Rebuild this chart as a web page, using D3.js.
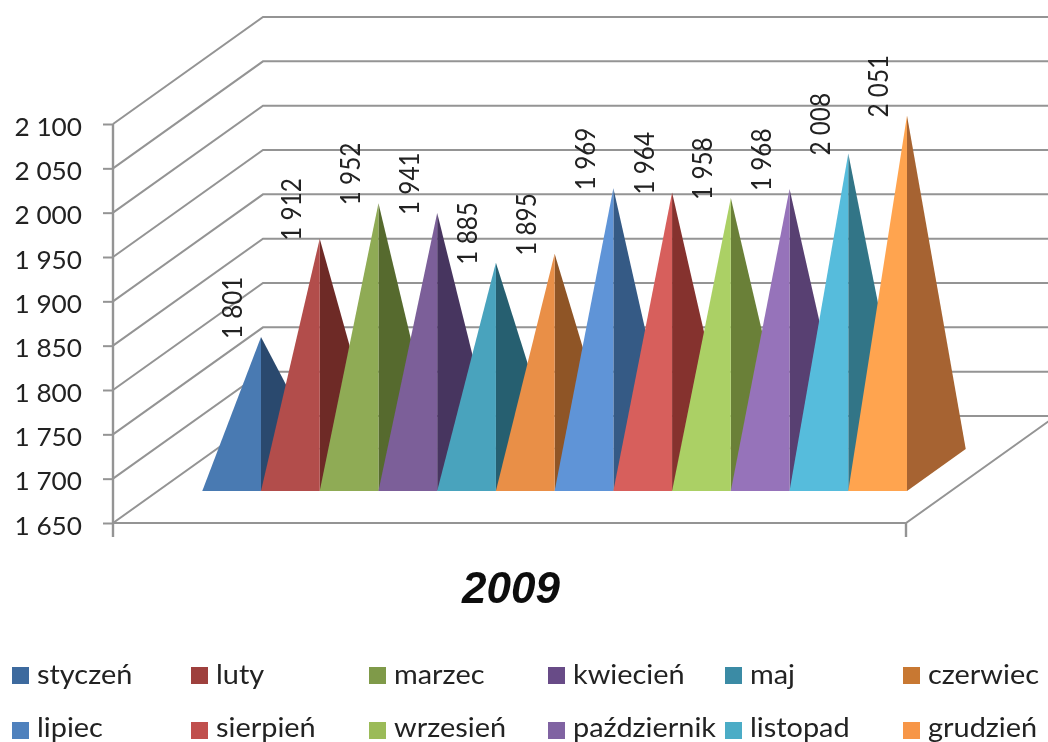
<!DOCTYPE html>
<html>
<head>
<meta charset="utf-8">
<script src="https://cdn.jsdelivr.net/npm/d3@7/dist/d3.min.js"></script>
<style>
html,body{margin:0;padding:0;background:#fff;overflow:hidden}
svg{display:block}
text{font-family:Lato,"Open Sans",sans-serif;fill:#222}
</style>
</head>
<body>
<svg id="chart" width="1048" height="742"></svg>
<script>
const months = ["styczeń","luty","marzec","kwiecień","maj","czerwiec","lipiec","sierpień","wrzesień","październik","listopad","grudzień"];
const values = [1801,1912,1952,1941,1885,1895,1969,1964,1958,1968,2008,2051];
const yTicks = [1650,1700,1750,1800,1850,1900,1950,2000,2050,2100];
const categoryTitle = "2009";
const frontColors = ["#4a7ab2","#b24e4b","#8fab54","#7b5f99","#4aa3bd","#e98f47","#5f94d7","#d75f5c","#abd065","#9673ba","#57bcdc","#ffa44f"];
const sideColors  = ["#2c4a6e","#6e2a28","#566a2e","#47355f","#285f70","#8f5426","#355a85","#85322f","#6b8039","#583f72","#337587","#a66430"];
const legendColors= ["#3e6a9e","#9e3f3c","#7f9a48","#674b87","#3b8ba5","#c87832","#4f81bd","#c0504d","#9bbb59","#8064a2","#4bacc6","#f79646"];

const W = 1048, H = 742;
const svg = d3.select("#chart");
const defs = svg.append("defs");
defs.append("filter").attr("id","soft").attr("x","-5%").attr("y","-5%").attr("width","110%").attr("height","110%")
  .append("feGaussianBlur").attr("stdDeviation",0.55);
const root = svg.append("g").attr("filter","url(#soft)");

const left = 113, right = 906, depthX = 150, depthY = 107;
const y = d3.scaleLinear().domain([1650,2100]).range([523,124]);
const x = d3.scalePoint().domain(months).range([261,907]);
const grid = "#949494";
const fmt = d3.formatLocale({decimal:",",thousands:"\u00a0",grouping:[3],currency:["",""]}).format(",d");
const line = d3.line();

// walls and floor
const gridG = root.append("g");
yTicks.forEach(t => {
  gridG.append("path").attr("fill","none").attr("stroke",grid).attr("stroke-width",2)
    .attr("d", line([[left,y(t)],[left+depthX,y(t)-depthY],[W+2,y(t)-depthY]]));
});
gridG.append("path").attr("fill","none").attr("stroke",grid).attr("stroke-width",2)
  .attr("d", line([[left,y(1650)],[right,y(1650)],[W+2,y(1650)-depthY*(W+2-right)/depthX]]));
gridG.append("path").attr("fill","none").attr("stroke",grid).attr("stroke-width",2.4)
  .attr("d", line([[right,y(1650)],[right,y(1650)+14]]));

// value axis
const tickStretch = 1.07;
const axis = d3.axisLeft(y).tickValues(yTicks).tickFormat(fmt).tickSize(10);
const ax = root.append("g").attr("transform",`translate(${left},0)`).call(axis);
ax.select(".domain").attr("stroke",grid).attr("stroke-width",2.4)
  .attr("d",`M0,${y(2100)}V${y(1650)+14}`);
ax.selectAll(".tick line").attr("stroke",grid).attr("stroke-width",2);
ax.selectAll(".tick text").attr("font-size",24.5).attr("x",-31/tickStretch).attr("dy","0.46em")
  .attr("transform",`scale(${tickStretch},1)`).attr("fill","#222");

// pyramids
const baseFrontY = 491, baseBackY = 449, halfStep = x.step();
const apexLift = 52;
const py = root.append("g");
months.forEach((m,i) => {
  const cx = x(m), top = y(values[i]) - apexLift;
  py.append("path").attr("fill",sideColors[i])
    .attr("d", line([[cx,top],[cx,baseFrontY],[cx+halfStep,baseBackY]])+"Z");
  py.append("path").attr("fill",frontColors[i])
    .attr("d", line([[cx,top],[cx-halfStep,baseFrontY],[cx,baseFrontY]])+"Z");
});

// data labels
const labels = root.append("g");
months.forEach((m,i) => {
  const lx = x(m) - 28, ly = y(values[i]) - apexLift + 2;
  labels.append("text").attr("transform",`translate(${lx},${ly}) rotate(-90) scale(0.9,1)`)
    .attr("font-size",27).attr("dy","0.35em").text(fmt(values[i]));
});

// title
root.append("text").attr("x",511).attr("y",603).attr("text-anchor","middle")
  .attr("font-size",44).attr("font-weight",700).attr("font-style","italic")
  .style("font-family","'Liberation Sans'").style("fill","#111").text(categoryTitle);

// legend
const legendX = d3.scaleOrdinal().domain(d3.range(6)).range([12,191,369,548,725,903]);
const legend = root.append("g");
months.forEach((m,i) => {
  const col = i % 6, row = Math.floor(i/6);
  const lx = legendX(col), ly = row === 0 ? 675 : 730;
  legend.append("rect").attr("x",lx).attr("y",ly-8).attr("width",17).attr("height",17).attr("fill",legendColors[i]);
  legend.append("text").attr("transform",`translate(${lx+25},${row === 0 ? 684 : 737}) scale(1.07,1)`)
    .attr("font-size",27).text(m);
});
</script>
</body>
</html>
